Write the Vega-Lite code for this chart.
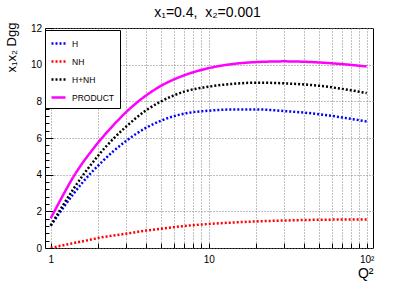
{
  "$schema": "https://vega.github.io/schema/vega-lite/v6.json",
  "width": 328,
  "height": 220,
  "autosize": {"type": "none"},
  "padding": {"left": 45, "top": 28, "right": 42, "bottom": 35},
  "background": "white",
  "config": {
    "view": {"stroke": "black", "strokeWidth": 1},
    "font": "Liberation Sans",
    "axis": {"labelFont": "Liberation Sans", "titleFont": "Liberation Sans", "labelColor": "black", "titleColor": "black", "tickColor": "black", "domain": false, "titleFontWeight": "normal"},
    "legend": {"labelFont": "Liberation Sans"}
  },
  "data": {"values": [
    {"Q2": 1, "s": "H", "v": 1.22}, {"Q2": 1.2, "s": "H", "v": 2.2}, {"Q2": 1.4, "s": "H", "v": 2.98}, {"Q2": 1.6, "s": "H", "v": 3.6}, {"Q2": 1.8, "s": "H", "v": 4.1}, {"Q2": 2, "s": "H", "v": 4.5}, {"Q2": 2.5, "s": "H", "v": 5.29}, {"Q2": 3, "s": "H", "v": 5.84}, {"Q2": 4, "s": "H", "v": 6.55}, {"Q2": 5, "s": "H", "v": 6.95}, {"Q2": 7, "s": "H", "v": 7.33}, {"Q2": 10, "s": "H", "v": 7.49}, {"Q2": 15, "s": "H", "v": 7.56}, {"Q2": 20, "s": "H", "v": 7.56}, {"Q2": 30, "s": "H", "v": 7.47}, {"Q2": 50, "s": "H", "v": 7.3}, {"Q2": 70, "s": "H", "v": 7.12}, {"Q2": 100, "s": "H", "v": 6.9},
    {"Q2": 1, "s": "NH", "v": 0}, {"Q2": 1.2, "s": "NH", "v": 0.15}, {"Q2": 1.4, "s": "NH", "v": 0.27}, {"Q2": 1.6, "s": "NH", "v": 0.37}, {"Q2": 1.8, "s": "NH", "v": 0.46}, {"Q2": 2, "s": "NH", "v": 0.55}, {"Q2": 2.5, "s": "NH", "v": 0.68}, {"Q2": 3, "s": "NH", "v": 0.78}, {"Q2": 4, "s": "NH", "v": 0.95}, {"Q2": 5, "s": "NH", "v": 1.05}, {"Q2": 7, "s": "NH", "v": 1.2}, {"Q2": 10, "s": "NH", "v": 1.31}, {"Q2": 15, "s": "NH", "v": 1.4}, {"Q2": 20, "s": "NH", "v": 1.45}, {"Q2": 30, "s": "NH", "v": 1.5}, {"Q2": 50, "s": "NH", "v": 1.54}, {"Q2": 70, "s": "NH", "v": 1.55}, {"Q2": 100, "s": "NH", "v": 1.55},
    {"Q2": 1, "s": "H+NH", "v": 1.22}, {"Q2": 1.2, "s": "H+NH", "v": 2.35}, {"Q2": 1.4, "s": "H+NH", "v": 3.25}, {"Q2": 1.6, "s": "H+NH", "v": 3.97}, {"Q2": 1.8, "s": "H+NH", "v": 4.55}, {"Q2": 2, "s": "H+NH", "v": 5.05}, {"Q2": 2.5, "s": "H+NH", "v": 5.97}, {"Q2": 3, "s": "H+NH", "v": 6.62}, {"Q2": 4, "s": "H+NH", "v": 7.5}, {"Q2": 5, "s": "H+NH", "v": 8.0}, {"Q2": 7, "s": "H+NH", "v": 8.53}, {"Q2": 10, "s": "H+NH", "v": 8.8}, {"Q2": 15, "s": "H+NH", "v": 8.97}, {"Q2": 20, "s": "H+NH", "v": 9.02}, {"Q2": 30, "s": "H+NH", "v": 8.98}, {"Q2": 50, "s": "H+NH", "v": 8.85}, {"Q2": 70, "s": "H+NH", "v": 8.68}, {"Q2": 100, "s": "H+NH", "v": 8.45},
    {"Q2": 1, "s": "PRODUCT", "v": 1.62}, {"Q2": 1.2, "s": "PRODUCT", "v": 2.9}, {"Q2": 1.4, "s": "PRODUCT", "v": 3.92}, {"Q2": 1.6, "s": "PRODUCT", "v": 4.67}, {"Q2": 1.8, "s": "PRODUCT", "v": 5.26}, {"Q2": 2, "s": "PRODUCT", "v": 5.76}, {"Q2": 2.5, "s": "PRODUCT", "v": 6.71}, {"Q2": 3, "s": "PRODUCT", "v": 7.41}, {"Q2": 4, "s": "PRODUCT", "v": 8.31}, {"Q2": 5, "s": "PRODUCT", "v": 8.85}, {"Q2": 7, "s": "PRODUCT", "v": 9.42}, {"Q2": 10, "s": "PRODUCT", "v": 9.81}, {"Q2": 15, "s": "PRODUCT", "v": 10.06}, {"Q2": 20, "s": "PRODUCT", "v": 10.14}, {"Q2": 30, "s": "PRODUCT", "v": 10.18}, {"Q2": 50, "s": "PRODUCT", "v": 10.12}, {"Q2": 70, "s": "PRODUCT", "v": 10.03}, {"Q2": 100, "s": "PRODUCT", "v": 9.9}
  ]},
  "layer": [
    {
      "mark": {"type": "line", "interpolate": "monotone", "strokeWidth": 2.5, "clip": true},
      "encoding": {
        "x": {"field": "Q2", "type": "quantitative",
          "scale": {"type": "log", "domain": [0.92, 109.6], "nice": false, "zero": false},
          "axis": {"values": [1,2,3,4,5,6,7,8,9,10,20,30,40,50,60,70,80,90,100],
            "labelExpr": "datum.value == 1 ? '1' : datum.value == 10 ? '10' : datum.value == 100 ? '10²' : ''",
            "labelOverlap": false, "labelFontSize": 10, "labelPadding": 11, "labelBaseline": "top", "labelFlush": false,
            "tickSize": -5, "grid": true, "gridColor": "#808080", "gridDash": [1, 2], "gridWidth": 1,
            "title": "Q²", "titleFontSize": 14, "titleAnchor": "end", "titleAlign": "right", "titleBaseline": "alphabetic", "titleX": 328, "titleY": 29}},
        "y": {"field": "v", "type": "quantitative",
          "scale": {"domain": [0, 12], "nice": false},
          "axis": {"values": [0,2,4,6,8,10,12], "labelFontSize": 10, "labelPadding": 11.5, "tickSize": -8,
            "grid": true, "gridColor": "#808080", "gridDash": [1, 2], "gridWidth": 1,
            "title": "x₁x₂ Dgg", "titleFontSize": 13, "titleAngle": 270, "titleAlign": "left", "titleBaseline": "alphabetic", "titleX": -30, "titleY": 44}},
        "color": {"field": "s", "type": "nominal",
          "scale": {"domain": ["H", "NH", "H+NH", "PRODUCT"], "range": ["#0000ff", "#ff0000", "#000000", "#ff00ff"]},
          "legend": {"orient": "none", "legendX": 0, "legendY": 2, "title": null, "symbolType": "stroke", "symbolStrokeWidth": 2.5, "symbolSize": 196,
            "labelFontSize": 8.5, "labelColor": "black", "labelOffset": 5, "rowPadding": 4, "padding": 5, "strokeColor": "black", "fillColor": "white", "cornerRadius": 0}},
        "strokeDash": {"field": "s", "type": "nominal",
          "scale": {"domain": ["H", "NH", "H+NH", "PRODUCT"], "range": [[2, 2], [2, 2], [2, 2], [1, 0]]},
          "legend": {"orient": "none", "legendX": 0, "legendY": 2, "title": null}}
      }
    },
    {
      "mark": {"type": "point", "opacity": 0},
      "encoding": {
        "x": {"field": "Q2", "type": "quantitative",
          "axis": {"orient": "top", "labels": false, "ticks": false, "grid": false, "domain": false,
            "title": "x₁=0.4,\u00a0\u00a0x₂=0.001", "titleFontSize": 14, "titleAlign": "center", "titleBaseline": "alphabetic", "titleX": 162, "titleY": -12}},
        "y": {"field": "v", "type": "quantitative",
          "axis": {"orient": "left", "values": [0.4,0.8,1.2,1.6,2.4,2.8,3.2,3.6,4.4,4.8,5.2,5.6,6.4,6.8,7.2,7.6,8.4,8.8,9.2,9.6,10.4,10.8,11.2,11.6],
            "labels": false, "grid": false, "tickSize": -4, "title": null, "domain": false}}
      }
    }
  ],
  "resolve": {"axis": {"x": "independent", "y": "independent"}}
}
